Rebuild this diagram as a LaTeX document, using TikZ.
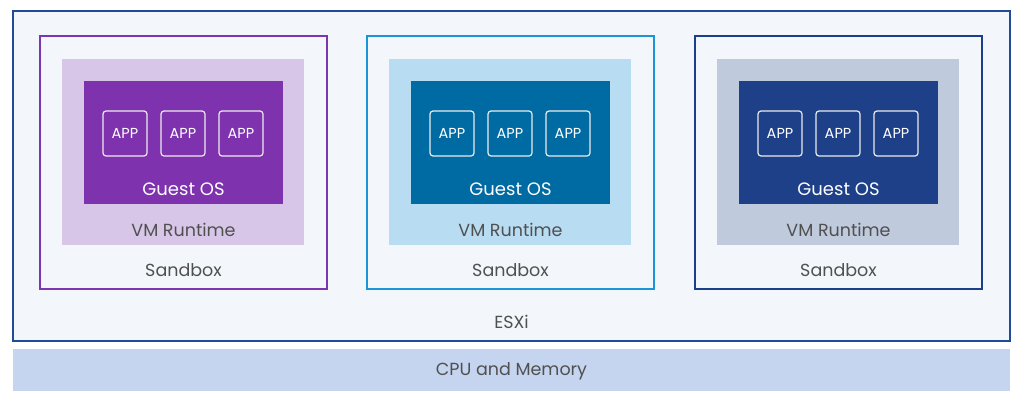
\documentclass[tikz,border=0pt]{standalone}
\usepackage{fontspec}
\setmainfont{Poppins}
\definecolor{esxiborder}{HTML}{1F4B99}
\definecolor{esxifill}{HTML}{F3F7FB}
\definecolor{cpufill}{HTML}{C5D5F0}
\definecolor{txt}{HTML}{505050}
\definecolor{sbA}{HTML}{7B36B0}\definecolor{vmA}{HTML}{D8C6E8}\definecolor{gA}{HTML}{7E32AD}
\definecolor{sbB}{HTML}{1A96D8}\definecolor{vmB}{HTML}{B8DCF2}\definecolor{gB}{HTML}{006BA3}
\definecolor{sbC}{HTML}{1C3F8A}\definecolor{vmC}{HTML}{BFCADD}\definecolor{gC}{HTML}{1D4089}
\tikzset{
  box/.style={rectangle, inner sep=0pt, outer sep=0pt},
  lbl/.style={font=\fontsize{17.5}{20}\selectfont, text=txt, inner sep=0pt, yshift=-1.5pt},
  wlbl/.style={font=\fontsize{18}{21}\selectfont, text=white, inner sep=0pt, yshift=-1.5pt},
  appbox/.style={box, draw=white!85!gray, line width=1.2pt, rounded corners=3pt,
    minimum width=44pt, minimum height=45pt, text=white,
    font=\fontsize{14.5}{16}\selectfont},
}
\begin{document}
\begin{tikzpicture}[x=1pt,y=-1pt]
\useasboundingbox[fill=white] (0,0) rectangle (1024,404);
\node[box, fill=esxifill, draw=esxiborder, line width=2.2pt, minimum width=997pt, minimum height=330pt] (esxi) at (511.5,176) {};
\node[box, fill=cpufill, minimum width=997pt, minimum height=42pt] (cpu) at (511.5,370) {};
\node[lbl] (esxilbl) at (511.5,320) {ESXi};
\node[lbl] (cpulbl) at (511.5,370) {CPU and Memory};
\foreach \i/\dx/\sc/\vc/\gc in {1/0/sbA/vmA/gA, 2/327/sbB/vmB/gB, 3/655/sbC/vmC/gC}{
  \node[box, fill=esxifill, draw=\sc, line width=2pt, minimum width=287pt, minimum height=253pt] (sb\i) at (183.5+\dx,162.5) {};
  \node[box, fill=\vc, minimum width=242pt, minimum height=186pt] (vm\i) at (183+\dx,152) {};
  \node[box, fill=\gc, minimum width=199pt, minimum height=123pt] (guest\i) at (183.5+\dx,142.5) {};
  \node[appbox] (app\i a) at (125+\dx,133.5) {APP};
  \node[appbox] (app\i b) at (183+\dx,133.5) {APP};
  \node[appbox] (app\i c) at (241+\dx,133.5) {APP};
  \node[wlbl] (glbl\i) at (183.5+\dx,188) {Guest OS};
  \node[lbl] (vlbl\i) at (183.5+\dx,228) {VM Runtime};
  \node[lbl] (slbl\i) at (183.5+\dx,269) {Sandbox};
}
\end{tikzpicture}
\end{document}
